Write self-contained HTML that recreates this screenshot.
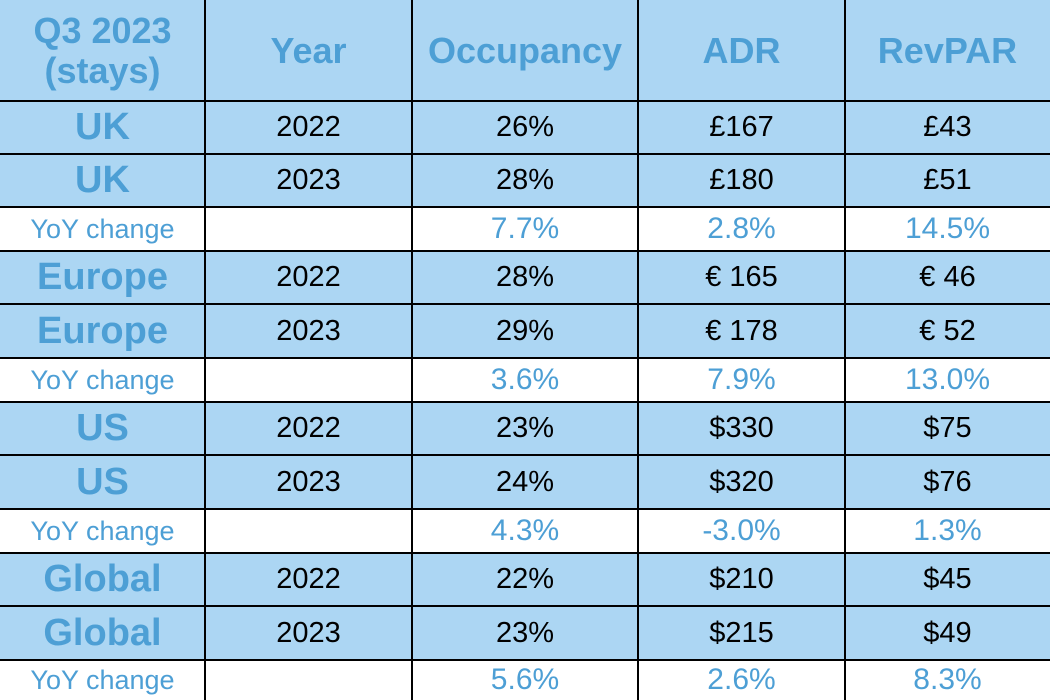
<!DOCTYPE html><html><head><style>
body{margin:0;width:1050px;height:700px;overflow:hidden;background:#fff;font-family:"Liberation Sans",sans-serif;}
.c{position:absolute;display:flex;align-items:center;justify-content:center;text-align:center;box-sizing:border-box;white-space:nowrap;}
.h{color:#4d9fd5;font-weight:bold;font-size:36px;line-height:40px;}
.l{color:#4d9fd5;font-weight:bold;font-size:38px;}
.d{color:#000;font-size:29px;}
.y{color:#4d9fd5;font-size:30px;}
.yl{color:#4d9fd5;font-size:27px;}
.b{background:#acd6f3;}
.vl{position:absolute;top:0;height:700px;width:2px;background:#000;}
.hl{position:absolute;left:0;width:1050px;height:2px;background:#000;}
</style></head><body>
<div id="t"></div>
<script>
var cols=[0,205,412,638,845,1050];
var rows=[0,101,154,207,251,304,358,402,455,509,553,606,660,700];
var data=[
["h","Q3 2023<br>(stays)","Year","Occupancy","ADR","RevPAR"],
["b","UK","2022","26%","£167","£43"],
["b","UK","2023","28%","£180","£51"],
["y","YoY change","","7.7%","2.8%","14.5%"],
["b","Europe","2022","28%","€ 165","€ 46"],
["b","Europe","2023","29%","€ 178","€ 52"],
["y","YoY change","","3.6%","7.9%","13.0%"],
["b","US","2022","23%","$330","$75"],
["b","US","2023","24%","$320","$76"],
["y","YoY change","","4.3%","-3.0%","1.3%"],
["b","Global","2022","22%","$210","$45"],
["b","Global","2023","23%","$215","$49"],
["y","YoY change","","5.6%","2.6%","8.3%"]];
var h="";
for(var r=0;r<data.length;r++){var t=data[r][0];
 for(var c=0;c<5;c++){var cls;
  if(t=="h")cls="h b";else if(t=="b")cls=(c==0?"l":"d")+" b";else cls=(c==0?"yl":"y");
  h+='<div class="c '+cls+'" style="left:'+cols[c]+'px;top:'+rows[r]+'px;width:'+(cols[c+1]-cols[c])+'px;height:'+(rows[r+1]-rows[r])+'px">'+data[r][c+1]+'</div>';}}
for(var c=1;c<5;c++)h+='<div class="vl" style="left:'+(cols[c]-1)+'px"></div>';
for(var r=1;r<13;r++)h+='<div class="hl" style="top:'+(rows[r]-1)+'px"></div>';
document.getElementById("t").innerHTML=h;
</script>
</body></html>
